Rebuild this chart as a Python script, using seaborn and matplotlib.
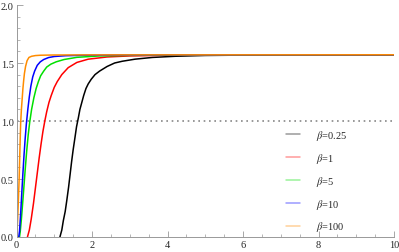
import numpy as np
import pandas as pd
import matplotlib
matplotlib.use("Agg")
import matplotlib.pyplot as plt
import seaborn as sns
from matplotlib.ticker import MultipleLocator

# values
labels = ["β=0.25", "β=1", "β=5", "β=10", "β=100"]
colors = ["#000000", "#ff0000", "#00e000", "#0000ff", "#ff8c00"]

x_b025 = [1.15, 1.20, 1.24, 1.29, 1.33, 1.38, 1.42, 1.46, 1.50, 1.55, 1.59, 1.64, 1.68, 1.73, 1.78, 1.84, 1.90, 1.98, 2.08, 2.20, 2.40, 2.60, 2.80, 3.14, 3.60, 4.20, 5.00, 6.00, 7.50, 10.0]
y_b025 = [0.00, 0.06, 0.14, 0.22, 0.31, 0.43, 0.54, 0.65, 0.75, 0.86, 0.95, 1.03, 1.10, 1.16, 1.22, 1.28, 1.32, 1.36, 1.40, 1.43, 1.47, 1.50, 1.515, 1.533, 1.548, 1.558, 1.565, 1.568, 1.570, 1.5708]

x_b1 = [0.29, 0.34, 0.39, 0.45, 0.50, 0.55, 0.60, 0.65, 0.70, 0.75, 0.80, 0.86, 0.92, 1.00, 1.08, 1.20, 1.37, 1.60, 1.90, 2.40, 3.00, 4.00, 6.00, 10.0]
y_b1 = [0.00, 0.06, 0.155, 0.29, 0.42, 0.55, 0.68, 0.80, 0.91, 1.00, 1.08, 1.16, 1.22, 1.29, 1.34, 1.40, 1.46, 1.505, 1.533, 1.552, 1.561, 1.567, 1.570, 1.5708]

x_b5 = [0.08, 0.10, 0.13, 0.17, 0.20, 0.23, 0.27, 0.31, 0.35, 0.40, 0.46, 0.52, 0.58, 0.64, 0.72, 0.80, 0.91, 1.05, 1.26, 1.60, 2.20, 3.00, 4.50, 10.0]
y_b5 = [0.00, 0.05, 0.155, 0.32, 0.45, 0.58, 0.74, 0.88, 0.99, 1.10, 1.20, 1.28, 1.34, 1.39, 1.43, 1.465, 1.49, 1.51, 1.53, 1.549, 1.561, 1.566, 1.569, 1.5708]

x_b10 = [0.06, 0.08, 0.11, 0.14, 0.17, 0.20, 0.23, 0.26, 0.30, 0.34, 0.38, 0.43, 0.48, 0.55, 0.63, 0.72, 0.85, 1.00, 1.30, 1.80, 2.50, 4.00, 10.0]
y_b10 = [0.00, 0.05, 0.20, 0.38, 0.55, 0.71, 0.85, 0.97, 1.10, 1.21, 1.30, 1.38, 1.43, 1.48, 1.51, 1.53, 1.547, 1.556, 1.563, 1.567, 1.569, 1.570, 1.5708]

x_b100 = [0.005, 0.03, 0.05, 0.07, 0.09, 0.11, 0.13, 0.15, 0.17, 0.19, 0.21, 0.24, 0.28, 0.33, 0.40, 0.50, 0.64, 1.00, 2.00, 10.0]
y_b100 = [0.00, 0.15, 0.32, 0.50, 0.75, 0.98, 1.10, 1.19, 1.28, 1.35, 1.41, 1.47, 1.52, 1.548, 1.558, 1.564, 1.567, 1.569, 1.570, 1.5708]

series = [(x_b025, y_b025), (x_b1, y_b1), (x_b5, y_b5), (x_b10, y_b10), (x_b100, y_b100)]

sns.set_style("ticks")
plt.rcParams["font.family"] = ["Liberation Serif", "DejaVu Serif"]
plt.rcParams["mathtext.fontset"] = "stix"

fig = plt.figure(figsize=(3.99, 2.53), dpi=100)
ax = fig.add_axes([16.5 / 399, 15 / 253, (394 - 16.5) / 399, (238 - 6) / 253])

for (xs, ys), lab, c in zip(series, labels, colors):
    df = pd.DataFrame({"x": xs, "y": ys})
    sns.lineplot(data=df, x="x", y="y", ax=ax, color=c, lw=1.1, label=lab,
                 sort=False, estimator=None)

ax.axhline(1.0, color="#888888", ls=(0, (1, 2.2)), lw=1.2, zorder=0)

ax.set_xlim(0, 10)
ax.set_ylim(0, 2)
ax.set_xlabel("")
ax.set_ylabel("")
ax.set_xticks([0, 2, 4, 6, 8, 10])
ax.set_xticklabels(["0", "2", "4", "6", "8", "10"])
ax.set_yticks([0.0, 0.5, 1.0, 1.5, 2.0])
ax.set_yticklabels(["0.0", "0.5", "1.0", "1.5", "2.0"])
ax.xaxis.set_minor_locator(MultipleLocator(0.5))
ax.yaxis.set_minor_locator(MultipleLocator(0.1))
ax.tick_params(which="both", direction="in", color="#999999", labelsize=7.5, pad=2)
ax.tick_params(which="major", length=4, width=0.6)
ax.tick_params(which="minor", length=2, width=0.5)
for s in ["top", "right"]:
    ax.spines[s].set_visible(False)
for s in ["left", "bottom"]:
    ax.spines[s].set_color("#999999")
    ax.spines[s].set_linewidth(0.7)

leg = ax.legend(loc="upper left", bbox_to_anchor=(0.69, 0.51), frameon=False,
                fontsize=7.5, handlelength=1.3, labelspacing=0.85, handletextpad=1.5)
for h in leg.legend_handles:
    h.set_alpha(0.4)
for t in leg.get_texts():
    lab = t.get_text()
    t.set_text(r"$\beta$" + lab[1:])

fig.savefig("out.png", dpi=100)
